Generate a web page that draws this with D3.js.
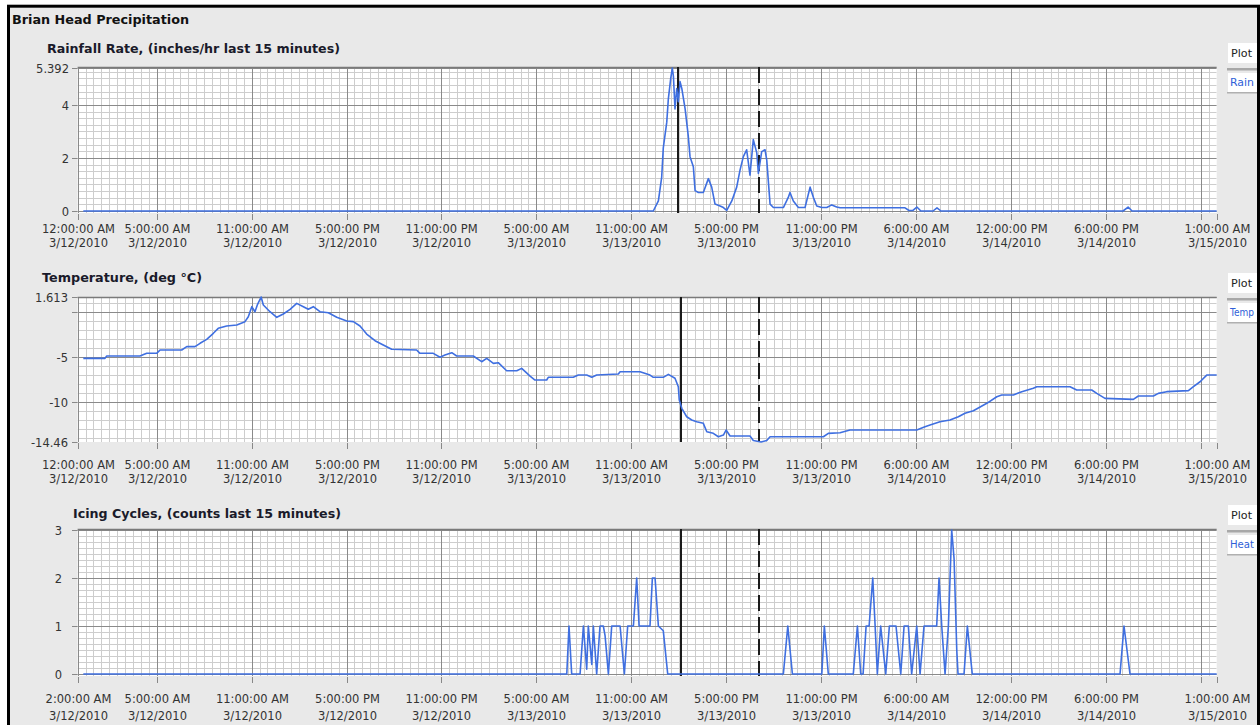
<!DOCTYPE html>
<html><head><meta charset="utf-8">
<script src="https://cdn.jsdelivr.net/npm/d3@7"></script>
<style>
html,body{margin:0;padding:0;background:#fff;}
svg{display:block;}
</style></head><body>
<svg id="c" width="1260" height="725"></svg>
<script>
// ---------------- DATA ----------------
const chartTitle = "Brian Head Precipitation";
const panelTitles = ["Rainfall Rate, (inches/hr last 15 minutes)", "Temperature, (deg °C)", "Icing Cycles, (counts last 15 minutes)"];
const legendHeader = "Plot";
const legendNames = ["Rain", "Temp", "Heat"];

// x positions are elapsed hours since 12:00:00 AM 3/12/2010 (DST starts 3/14)
const xTickHours = [0, 5, 11, 17, 23, 29, 35, 41, 47, 53, 59, 65, 71, 72];
const xTickTimeLabels = ["12:00:00 AM", "5:00:00 AM", "11:00:00 AM", "5:00:00 PM", "11:00:00 PM", "5:00:00 AM", "11:00:00 AM", "5:00:00 PM", "11:00:00 PM", "6:00:00 AM", "12:00:00 PM", "6:00:00 PM", "", "1:00:00 AM"];
const xTickDateLabels = ["3/12/2010", "3/12/2010", "3/12/2010", "3/12/2010", "3/12/2010", "3/13/2010", "3/13/2010", "3/13/2010", "3/13/2010", "3/14/2010", "3/14/2010", "3/14/2010", "", "3/15/2010"];
const icingTimeLabels = ["2:00:00 AM", "5:00:00 AM", "11:00:00 AM", "5:00:00 PM", "11:00:00 PM", "5:00:00 AM", "11:00:00 AM", "5:00:00 PM", "11:00:00 PM", "6:00:00 AM", "12:00:00 PM", "6:00:00 PM", "", "1:00:00 AM"];

const rainYTicks = [0, 2, 4, 5.392];
const rainYLabels = ["0", "2", "4", "5.392"];
const tempYTicks = [1.613, 0, -5, -10, -14.46];
const tempYLabels = ["1.613", "", "-5", "-10", "-14.46"];
const iceYTicks = [0, 1, 2, 3];
const iceYLabels = ["0", "1", "2", "3"];

const rainCursorHours = [37.95, 43.07];
const tempCursorHours = [38.14, 43.07];
const iceCursorHours = [38.14, 43.07];

const rainData = [
[0.36,0],[36.39,0],[36.71,0.38],[36.92,1.28],[37.02,2.38],[37.24,3.35],[37.34,4.23],[37.49,5.0],[37.59,5.392],[37.66,5.08],[37.76,3.85],[37.87,4.62],[37.97,4.12],[38.08,4.88],[38.19,4.62],[38.40,3.85],[38.60,2.82],[38.71,2.05],[38.92,1.67],[39.03,0.77],[39.24,0.70],[39.55,0.70],[39.87,1.22],[40.08,0.90],[40.29,0.26],[40.61,0.19],[40.82,0.13],[41.03,0.02],[41.35,0.38],[41.66,0.90],[41.87,1.54],[42.08,2.05],[42.29,2.31],[42.50,1.35],[42.71,2.69],[42.93,2.19],[43.03,1.42],[43.24,2.24],[43.45,2.31],[43.56,1.92],[43.77,0.26],[43.98,0.13],[44.61,0.13],[44.92,0.51],[45.03,0.70],[45.24,0.38],[45.56,0.13],[45.98,0.13],[46.30,0.90],[46.51,0.51],[46.72,0.19],[47.04,0.13],[47.35,0.13],[47.67,0.23],[47.98,0.15],[48.2,0.12],[52.3,0.12],[52.55,0.02],[52.8,0.02],[53.05,0.15],[53.3,0],[54.07,0],[54.32,0.12],[54.57,0],[66.08,0],[66.4,0.15],[66.65,0],[72,0]
];

const tempData = [
[0.36,-5.19],[1.73,-5.19],[1.84,-4.93],[3.94,-4.93],[4.37,-4.63],[5.00,-4.63],[5.21,-4.26],[6.58,-4.26],[6.90,-3.89],[7.42,-3.89],[7.74,-3.52],[8.16,-3.08],[8.58,-2.41],[8.89,-1.86],[9.42,-1.60],[10.06,-1.49],[10.58,-1.12],[10.79,-0.57],[11.01,0.54],[11.21,-0.02],[11.36,0.73],[11.6,1.613],[11.74,0.73],[12.16,-0.02],[12.59,-0.64],[13.00,-0.27],[13.43,0.25],[13.85,0.91],[14.27,0.54],[14.58,0.25],[14.90,0.54],[15.32,-0.02],[15.85,-0.13],[16.38,-0.64],[17.01,-1.05],[17.43,-1.12],[17.85,-1.60],[18.27,-2.49],[18.80,-3.23],[19.32,-3.71],[19.85,-4.18],[21.43,-4.26],[21.64,-4.63],[22.48,-4.63],[22.91,-5.07],[23.22,-4.82],[23.65,-4.56],[23.96,-4.93],[25.01,-4.93],[25.54,-5.56],[25.86,-5.19],[26.28,-5.74],[26.59,-5.67],[27.12,-6.56],[27.76,-6.56],[28.07,-6.30],[28.60,-7.15],[28.91,-7.59],[29.65,-7.59],[29.75,-7.29],[31.33,-7.29],[31.65,-7.04],[32.18,-7.04],[32.50,-7.29],[32.81,-7.04],[34.18,-6.93],[34.29,-6.67],[35.55,-6.67],[36.18,-7.04],[36.39,-7.29],[37.02,-7.29],[37.34,-6.96],[37.76,-7.40],[37.97,-8.33],[38.03,-9.80],[38.19,-10.73],[38.50,-11.66],[38.82,-12.02],[39.13,-12.21],[39.55,-12.39],[39.77,-13.32],[40.18,-13.50],[40.50,-13.88],[40.82,-13.69],[40.99,-13.13],[41.24,-13.80],[42.50,-13.80],[42.71,-14.3],[43.2,-14.46],[43.56,-14.3],[43.77,-13.88],[47.14,-13.88],[47.45,-13.50],[48.19,-13.43],[48.82,-13.13],[53.04,-13.13],[53.56,-12.76],[53.88,-12.58],[54.51,-12.21],[55.14,-12.02],[55.67,-11.66],[56.09,-11.28],[56.62,-10.99],[57.47,-10.17],[58.10,-9.44],[58.41,-9.25],[59.15,-9.25],[59.68,-8.88],[60.41,-8.51],[60.63,-8.33],[62.73,-8.33],[63.15,-8.70],[64.10,-8.70],[64.42,-9.07],[64.94,-9.62],[66.73,-9.73],[67.05,-9.36],[68.00,-9.36],[68.31,-9.07],[68.84,-8.88],[70.21,-8.77],[70.53,-8.33],[70.95,-7.78],[71.37,-7.04],[72,-7.04]
];

const iceData = [
[0.36,0],[30.92,0],[31.06,1],[31.23,0],[31.76,0],[31.97,1],[32.18,0.1],[32.28,1],[32.50,0.2],[32.60,1],[32.81,0],[33.02,1],[33.23,1],[33.34,0.8],[33.55,0],[33.76,1],[34.29,1],[34.56,0],[34.77,1],[35.13,1],[35.34,2],[35.49,1],[35.97,1],[36.18,1],[36.33,2],[36.50,2],[36.71,1],[37.02,0.9],[37.30,0],[44.61,0],[44.89,1],[45.18,0],[47.04,0],[47.20,1],[47.45,0],[49.03,0],[49.29,1],[49.50,0],[49.65,0],[49.84,1],[50.03,1],[50.26,2],[50.41,1],[50.55,0],[50.76,1],[51.08,0],[51.31,1],[51.73,1],[52.03,0],[52.24,1],[52.51,1],[52.72,0],[53.04,1],[53.25,0],[53.50,1],[54.30,1],[54.45,2],[54.62,1],[54.83,0],[55.04,1],[55.25,3],[55.40,2.4],[55.57,0.5],[55.65,0],[56.03,0],[56.24,1],[56.55,0],[65.89,0],[66.14,1],[66.52,0],[72,0]
];

// ---------------- DRAW ----------------
const svg = d3.select("#c");
const FONT = "'DejaVu Sans', sans-serif";
svg.append("rect").attr("width", 1260).attr("height", 725).attr("fill", "#fff");
svg.append("rect").attr("x", 8.5).attr("y", 6.2).attr("width", 1250).attr("height", 740)
  .attr("fill", "#e9e9e9").attr("stroke", "#000").attr("stroke-width", 3);

svg.append("text").attr("x", 12).attr("y", 24).text(chartTitle)
  .attr("font-family", FONT).attr("font-weight", "bold").attr("font-size", 12)
  .attr("textLength", 177).attr("lengthAdjust", "spacingAndGlyphs").attr("fill", "#111");

const x = d3.scaleLinear().domain([0, 72]).range([77.6, 1216.7]);

const panels = [
  { data: rainData, domain: [0, 5.392], range: [211, 68], bgTop: 67, bgBot: 213, minor: 0.25,
    yTicks: rainYTicks, yLabels: rainYLabels, labelRight: 69,
    title: panelTitles[0], titleX: 47, titleY: 53, titleW: 293,
    timeY: 233, dateY: 247, timeLabels: xTickTimeLabels, cursors: rainCursorHours, legend: legendNames[0] },
  { data: tempData, domain: [1.613, -14.46], range: [297, 442], bgTop: 297, bgBot: 442, minor: 1,
    yTicks: tempYTicks, yLabels: tempYLabels, labelRight: 68,
    title: panelTitles[1], titleX: 42, titleY: 282, titleW: 160,
    timeY: 469, dateY: 483, timeLabels: xTickTimeLabels, cursors: tempCursorHours, legend: legendNames[1] },
  { data: iceData, domain: [0, 3], range: [674, 530], bgTop: 529, bgBot: 676, minor: 0.125,
    yTicks: iceYTicks, yLabels: iceYLabels, labelRight: 62,
    title: panelTitles[2], titleX: 73, titleY: 518, titleW: 268,
    timeY: 703, dateY: 720, timeLabels: icingTimeLabels, cursors: iceCursorHours, legend: legendNames[2] }
];

panels.forEach((p, i) => {
  const g = svg.append("g");
  const y = d3.scaleLinear().domain(p.domain).range(p.range);
  const x0 = x.range()[0], x1 = x.range()[1];
  const clipId = "clip" + i;
  svg.append("clipPath").attr("id", clipId).append("rect")
    .attr("x", x0).attr("y", p.bgTop).attr("width", x1 - x0).attr("height", p.bgBot - p.bgTop);

  g.append("rect").attr("x", x0).attr("y", p.bgTop).attr("width", x1 - x0).attr("height", p.bgBot - p.bgTop).attr("fill", "#fff");

  const grid = g.append("g").attr("clip-path", `url(#${clipId})`);
  const minorX = d3.range(0, 72.001, 0.5);
  grid.selectAll(".mx").data(minorX).enter().append("line")
    .attr("x1", d => Math.round(x(d)) + 0.5).attr("x2", d => Math.round(x(d)) + 0.5)
    .attr("y1", p.bgTop).attr("y2", p.bgBot).attr("stroke", "#cdcdcd").attr("stroke-width", 1);
  const lo = Math.min(...p.domain), hi = Math.max(...p.domain);
  const minorY = d3.range(Math.ceil(lo / p.minor) * p.minor, hi + 1e-9, p.minor);
  grid.selectAll(".my").data(minorY).enter().append("line")
    .attr("x1", x0).attr("x2", x1)
    .attr("y1", d => Math.round(y(d)) + 0.5).attr("y2", d => Math.round(y(d)) + 0.5)
    .attr("stroke", "#cdcdcd").attr("stroke-width", 1);
  grid.selectAll(".Mx").data(xTickHours).enter().append("line")
    .attr("x1", d => Math.round(x(d)) + 0.5).attr("x2", d => Math.round(x(d)) + 0.5)
    .attr("y1", p.bgTop).attr("y2", p.bgBot).attr("stroke", "#8a8a8a").attr("stroke-width", 1);
  grid.selectAll(".My").data(p.yTicks).enter().append("line")
    .attr("x1", x0).attr("x2", x1)
    .attr("y1", d => Math.round(y(d)) + 0.5).attr("y2", d => Math.round(y(d)) + 0.5)
    .attr("stroke", "#8a8a8a").attr("stroke-width", 1);
  g.append("line").attr("x1", x0).attr("x2", x1).attr("y1", p.bgTop + 0.5).attr("y2", p.bgTop + 0.5)
    .attr("stroke", "#7a7a7a").attr("stroke-width", 1.5);

  p.yTicks.forEach((v, k) => {
    const yy = Math.round(y(v)) + 0.5;
    g.append("line").attr("x1", 72).attr("x2", x0).attr("y1", yy).attr("y2", yy).attr("stroke", "#888");
    if (p.yLabels[k]) {
      g.append("text").attr("x", p.labelRight).attr("y", yy).attr("dy", "0.35em")
        .attr("text-anchor", "end").attr("font-family", FONT).attr("font-size", 11.5)
        .attr("fill", "#333").text(p.yLabels[k]);
    }
  });

  xTickHours.forEach((h, k) => {
    const xx = Math.round(x(h)) + 0.5;
    g.append("line").attr("x1", xx).attr("x2", xx).attr("y1", p.bgBot + 1).attr("y2", p.bgBot + 7).attr("stroke", "#888");
    if (p.timeLabels[k]) {
      g.append("text").attr("x", xx).attr("y", p.timeY).attr("text-anchor", "middle")
        .attr("font-family", FONT).attr("font-size", 11.5).attr("fill", "#333").text(p.timeLabels[k]);
      g.append("text").attr("x", xx).attr("y", p.dateY).attr("text-anchor", "middle")
        .attr("font-family", FONT).attr("font-size", 11.5).attr("fill", "#333").text(xTickDateLabels[k]);
    }
  });

  g.append("text").attr("x", p.titleX).attr("y", p.titleY).text(p.title)
    .attr("font-family", FONT).attr("font-weight", "bold").attr("font-size", 12)
    .attr("textLength", p.titleW).attr("lengthAdjust", "spacingAndGlyphs").attr("fill", "#1a1a2a");

  p.cursors.forEach((h, k) => {
    g.append("line").attr("x1", x(h)).attr("x2", x(h)).attr("y1", p.bgTop).attr("y2", p.bgBot)
      .attr("stroke", "#1a1a1a").attr("stroke-width", 2)
      .attr("stroke-dasharray", k === 1 ? "16,6" : null);
  });

  const line = d3.line().x(d => x(d[0])).y(d => y(d[1]));
  g.append("path").datum(p.data).attr("d", line).attr("fill", "none")
    .attr("stroke", "#3f6fe0").attr("stroke-width", 1.6).attr("stroke-linejoin", "round");

  // legend (boxes run into the right border)
  const lg = g.append("g");
  const lclip = "lclip" + i;
  svg.append("clipPath").attr("id", lclip).append("rect")
    .attr("x", 1226).attr("y", p.bgTop - 30).attr("width", 31).attr("height", 70);
  lg.attr("clip-path", `url(#${lclip})`);
  lg.append("rect").attr("x", 1228).attr("y", p.bgTop - 24).attr("width", 40).attr("height", 20).attr("fill", "#fff");
  lg.append("rect").attr("x", 1227).attr("y", p.bgTop + 1).attr("width", 40).attr("height", 2.5).attr("fill", "#a8a8a8");
  lg.append("rect").attr("x", 1228).attr("y", p.bgTop + 6).attr("width", 40).attr("height", 19).attr("fill", "#fff");
  lg.append("rect").attr("x", 1227).attr("y", p.bgTop + 25).attr("width", 40).attr("height", 1.5).attr("fill", "#b0b0b0");
  g.append("text").attr("x", 1231).attr("y", p.bgTop - 10).text(legendHeader)
    .attr("font-family", FONT).attr("font-size", 10.5).attr("fill", "#222")
    .attr("textLength", 21).attr("lengthAdjust", "spacingAndGlyphs");
  g.append("text").attr("x", 1230).attr("y", p.bgTop + 19).text(p.legend)
    .attr("font-family", FONT).attr("font-size", 10.5).attr("fill", "#2f5fd8")
    .attr("textLength", 24).attr("lengthAdjust", "spacingAndGlyphs");
});
</script>
</body></html>
